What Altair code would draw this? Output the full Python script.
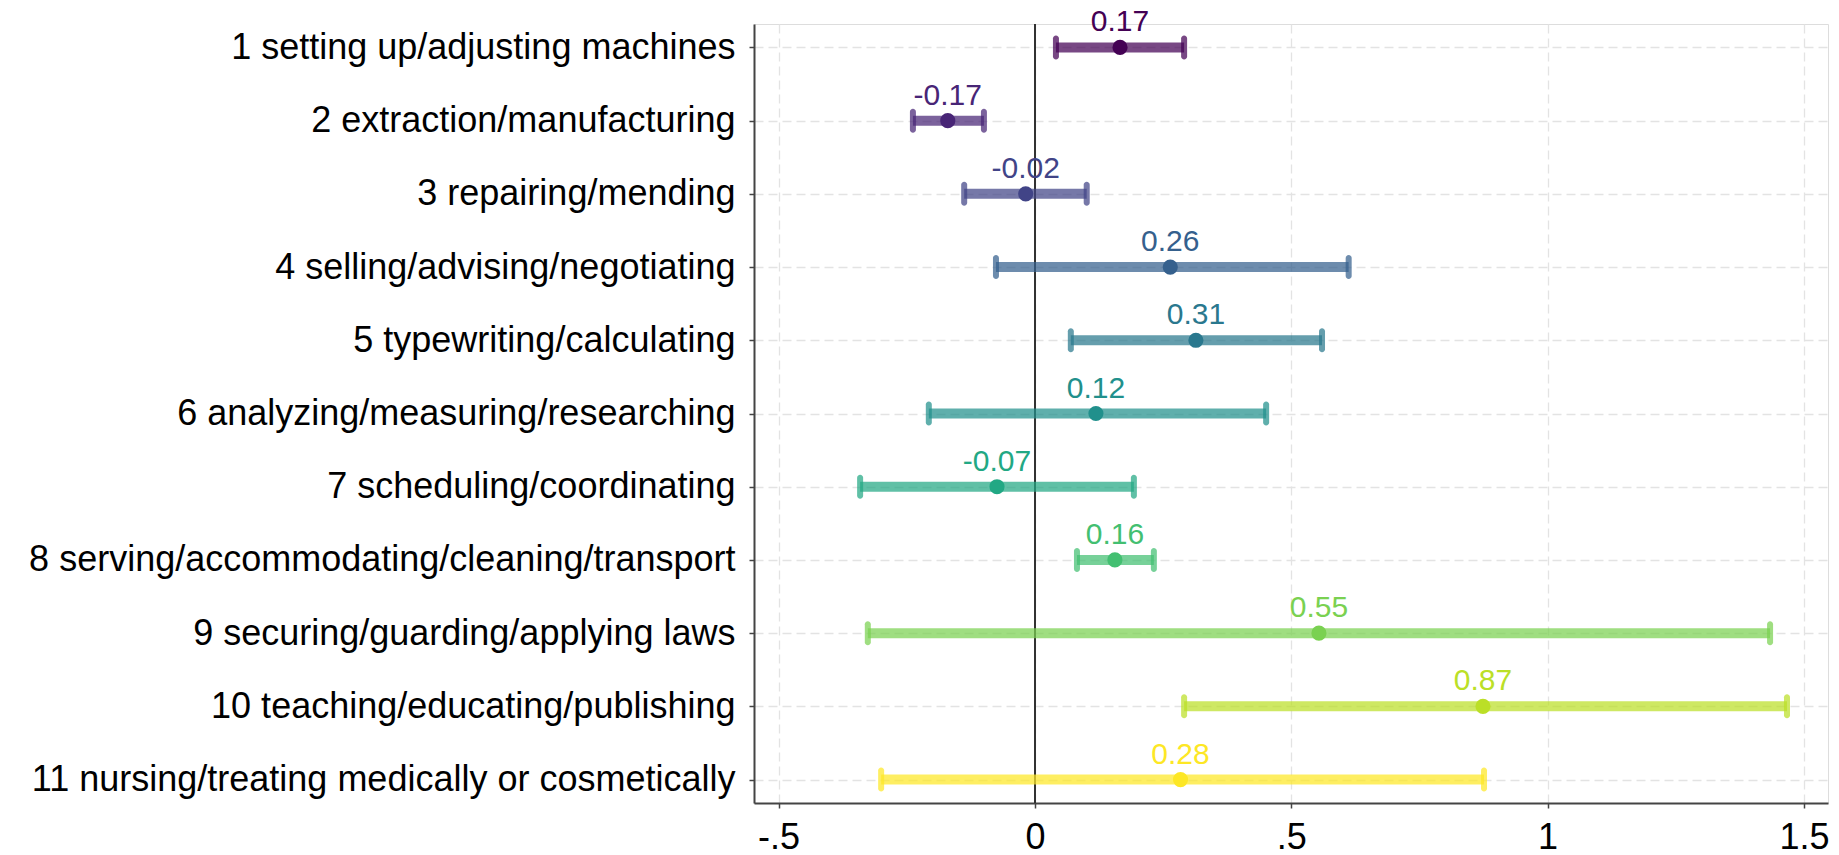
import altair as alt
import pandas as pd

categories = [
    "1 setting up/adjusting machines",
    "2 extraction/manufacturing",
    "3 repairing/mending",
    "4 selling/advising/negotiating",
    "5 typewriting/calculating",
    "6 analyzing/measuring/researching",
    "7 scheduling/coordinating",
    "8 serving/accommodating/cleaning/transport",
    "9 securing/guarding/applying laws",
    "10 teaching/educating/publishing",
    "11 nursing/treating medically or cosmetically",
]
estimate = [0.166, -0.170, -0.018, 0.264, 0.314, 0.119, -0.074, 0.156, 0.554, 0.874, 0.284]
ci_low = [0.041, -0.238, -0.138, -0.076, 0.070, -0.207, -0.341, 0.082, -0.326, 0.291, -0.300]
ci_high = [0.291, -0.0995, 0.101, 0.612, 0.560, 0.451, 0.193, 0.232, 1.434, 1.467, 0.876]
colors = ["#440154", "#482576", "#414487", "#35608D", "#2A788E", "#21908C",
          "#22A884", "#43BF71", "#7AD151", "#BBDF27", "#FDE725"]
x_ticks = [-0.5, 0, 0.5, 1, 1.5]

df = pd.DataFrame({"cat": categories, "est": estimate, "lo": ci_low, "hi": ci_high})
df["label"] = df["est"].map(lambda v: f"{v:.2f}")

FONT = "Liberation Sans"
GRID = "#e3e3e3"

y_enc = alt.Y("cat:N", sort=categories,
              scale=alt.Scale(type="point", padding=0.32),
              axis=alt.Axis(title=None, labelFontSize=36, labelColor="black", labelFont=FONT,
                            labelPadding=14, tickSize=5, tickColor="#444", tickWidth=1.5,
                            domainColor="#444", domainWidth=2,
                            grid=True, gridDash=[9, 5], gridColor=GRID, gridWidth=1.3,
                            labelLimit=1000))
x_scale = alt.Scale(domain=[-0.548, 1.547], nice=False, zero=False)
x_axis = alt.Axis(title=None, values=x_ticks,
                  labelExpr="(datum.value<0?'-':'') + replace(format(abs(datum.value),'~g'),'0.','.')",
                  labelFontSize=36, labelColor="black", labelFont=FONT, labelPadding=12,
                  tickSize=5, tickColor="#444", tickWidth=1.5,
                  domainColor="#444", domainWidth=2,
                  grid=True, gridDash=[9, 5], gridColor=GRID, gridWidth=1.3)
color_enc = alt.Color("cat:N", sort=categories, scale=alt.Scale(domain=categories, range=colors), legend=None)

base = alt.Chart(df)

zero_rule = base.mark_rule(color="#333", strokeWidth=1.3).encode(x=alt.datum(0, scale=x_scale))

bars = base.mark_rule(strokeWidth=10, opacity=0.72).encode(
    x=alt.X("lo:Q", scale=x_scale, axis=x_axis), x2="hi:Q", y=y_enc, color=color_enc)

cap_lo = base.mark_tick(thickness=6, size=24, opacity=0.72, cornerRadius=3).encode(
    x=alt.X("lo:Q", scale=x_scale), y=y_enc, color=color_enc)
cap_hi = base.mark_tick(thickness=6, size=24, opacity=0.72, cornerRadius=3).encode(
    x=alt.X("hi:Q", scale=x_scale), y=y_enc, color=color_enc)

points = base.mark_circle(size=230, opacity=1).encode(
    x=alt.X("est:Q", scale=x_scale), y=y_enc, color=color_enc)

labels = base.mark_text(dy=-16, baseline="alphabetic", fontSize=30, font=FONT).encode(
    x=alt.X("est:Q", scale=x_scale), y=y_enc, text="label:N", color=color_enc)

chart = alt.layer(zero_rule, bars, cap_lo, cap_hi, points, labels).properties(
    width=1074, height=779,
    autosize=alt.AutoSizeParams(type="none"),
    padding={"left": 754, "top": 24, "right": 11, "bottom": 52},
).configure_view(stroke="transparent", strokeWidth=0).configure(background="white")

chart.save("out.html", embed_options={"renderer": "svg", "actions": False})
